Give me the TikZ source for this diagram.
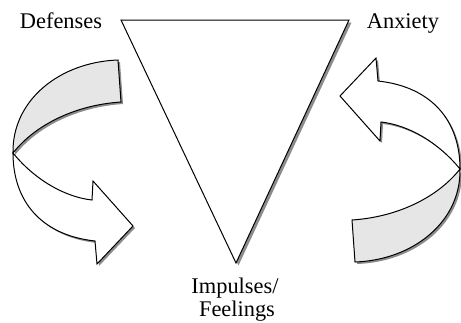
\documentclass[tikz,border=0pt]{standalone}
\usepackage{fontspec}
\setmainfont{Liberation Serif}
\usepackage{tikz}
\usetikzlibrary{positioning}
\definecolor{bandgray}{RGB}{230,230,230}
\definecolor{shadowgray}{RGB}{140,140,140}

\begin{document}
\begin{tikzpicture}[
  x=0.5pt, y=-0.5pt,
  lbl/.style={inner sep=0pt, anchor=base, font={\fontsize{11.2}{13}\selectfont}},
  face/.style={draw=black, line width=0.5pt, fill=white},
  band/.style={draw=black, line width=0.5pt, fill=bandgray},
  shade/.style={fill=shadowgray}
]
\useasboundingbox (0,0) rectangle (461,322);

% triangle with its shadow
\fill[shade] (123.5,22.5) -- (351.5,22.5) -- (238.5,265.5) -- cycle;
\draw[face] (121,20) -- (349,20) -- (236,263) -- cycle;

% the two curved arrows, second one turned half round
\foreach \ang in {0,180} {
  \begin{scope}[shift={(2,2)}]
    \begin{scope}[rotate around={\ang:(236.5,161)}]
      \fill[shade] (118,60) .. controls (60,62) and (12,100) .. (13,153)
        .. controls (35,125) and (75,105) .. (121,102) -- cycle;
      \fill[shade] (13,153) .. controls (35,180) and (65,197) .. (92,200)
        -- (93,181) -- (133,226) -- (97,264) -- (95,241)
        .. controls (40,235) and (13,200) .. (13,153) -- cycle;
    \end{scope}
  \end{scope}
  \begin{scope}[rotate around={\ang:(236.5,161)}]
    \draw[band] (118,60) .. controls (60,62) and (12,100) .. (13,153)
      .. controls (35,125) and (75,105) .. (121,102) -- cycle;
    \draw[face] (13,153) .. controls (35,180) and (65,197) .. (92,200)
      -- (93,181) -- (133,226) -- (97,264) -- (95,241)
      .. controls (40,235) and (13,200) .. (13,153) -- cycle;
  \end{scope}
}

\node[lbl] (def) at (61,28) {Defenses};
\node[lbl] (anx) at (403,28) {Anxiety};
\node[lbl] (imp) at (235,293) {Impulses/};
\node[lbl] (feel) at (237,316) {Feelings};
\end{tikzpicture}
\end{document}
